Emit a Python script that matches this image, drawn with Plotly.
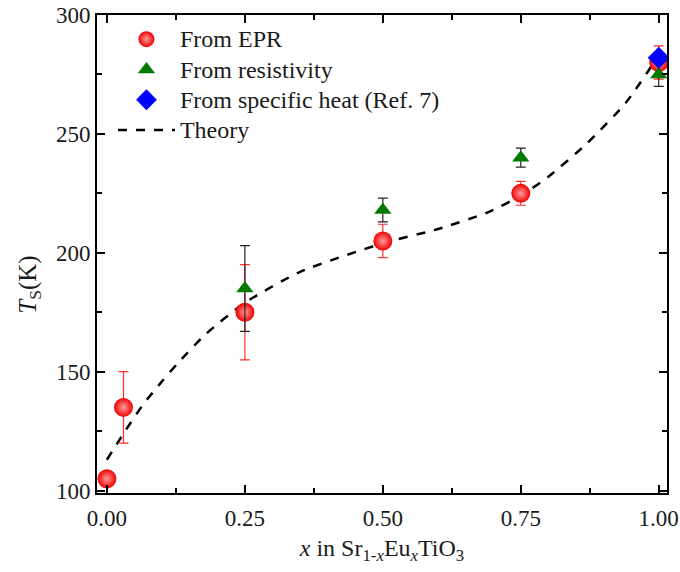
import plotly.graph_objects as go

# EPR data
epr_x = [0.0, 0.03, 0.25, 0.50, 0.75, 1.00]
epr_y = [105, 135, 175, 205, 225, 280]
epr_err = [0, 15, 20, 7, 5, 7]

# Resistivity data
res_x = [0.25, 0.50, 0.75, 1.00]
res_y = [185, 218, 240, 275]
res_err = [18, 5, 4, 5]

# Specific heat data
sh_x = [1.00]
sh_y = [282]

# Theory curve
th_x = [0.0, 0.03, 0.065, 0.1, 0.13, 0.18, 0.25, 0.35, 0.5, 0.6, 0.69, 0.75, 0.8, 0.87, 0.94, 1.0]
th_y = [113, 124, 136, 146, 154, 166, 179, 192, 204, 210, 217, 224, 232, 246, 263, 283]

FONT = "Liberation Serif"
TXT = "#1a1a1a"


def big(s):
    return '<span style="font-size:24px">' + s + '</span>'


fig = go.Figure()
fig.add_trace(go.Scatter(
    x=th_x, y=th_y, mode="lines", name=big("Theory"),
    line=dict(color="black", width=2.5, dash="dash", shape="spline", smoothing=0.6),
    legendrank=4,
))
fig.add_trace(go.Scatter(
    x=epr_x, y=epr_y, mode="markers", name=big("From EPR"),
    marker=dict(symbol="circle", size=19, color="#f00000", line=dict(width=0),
                gradient=dict(type="radial", color="#ff9c9c")),
    error_y=dict(type="data", array=epr_err, color="#ff3030", thickness=1.2, width=5),
    legendrank=1,
))
fig.add_trace(go.Scatter(
    x=res_x, y=res_y, mode="markers", name=big("From resistivity"),
    marker=dict(symbol="triangle-up", size=15, color="#007a00", line=dict(width=0)),
    error_y=dict(type="data", array=res_err, color="#222222", thickness=1.2, width=5),
    legendrank=2,
))
fig.add_trace(go.Scatter(
    x=sh_x, y=sh_y, mode="markers", name=big("From specific heat (Ref. 7)"),
    marker=dict(symbol="diamond", size=17, color="#0000ff", line=dict(width=0)),
    legendrank=3,
))

axis_common = dict(
    showline=True, linecolor="black", linewidth=2, mirror="ticks",
    ticks="inside", ticklen=8, tickwidth=1.5, tickcolor="black",
    showgrid=False, zeroline=False, automargin=False,
    tickfont=dict(family=FONT, size=23, color=TXT),
)

fig.update_xaxes(
    range=[-0.018, 1.015], tick0=0, dtick=0.25, tickformat=".2f",
    minor=dict(ticks="inside", ticklen=5, tickwidth=1.5, tickcolor="black", dtick=0.125, tick0=0),
    title=dict(text="<i>x</i> in Sr<sub>1-<i>x</i></sub>Eu<sub><i>x</i></sub>TiO<sub>3</sub>",
               font=dict(family=FONT, size=24, color=TXT), standoff=10),
    ticklabelstandoff=3,
    **axis_common,
)
fig.update_yaxes(
    range=[99, 300], tick0=100, dtick=50,
    minor=dict(ticks="inside", ticklen=5, tickwidth=1.5, tickcolor="black", dtick=25, tick0=100),
    **axis_common,
)

fig.add_annotation(
    text="<i>T</i><sub>S</sub>(K)", xref="paper", yref="paper",
    x=-0.12, y=0.435, xanchor="center", yanchor="middle",
    textangle=-90, showarrow=False,
    font=dict(family=FONT, size=25, color=TXT),
)

fig.update_layout(
    width=680, height=572,
    margin=dict(l=97, r=13, t=15, b=79),
    paper_bgcolor="white", plot_bgcolor="white",
    font=dict(family=FONT, color=TXT),
    legend=dict(x=0.028, y=0.9916, xanchor="left", yanchor="top",
                font=dict(family=FONT, size=21, color=TXT),
                bgcolor="rgba(0,0,0,0)", itemwidth=57, tracegroupgap=0),
    showlegend=True,
)

fig.write_html("out.html", config={"displayModeBar": False},
               post_script="document.body.style.margin='0';document.body.style.overflow='hidden';")
